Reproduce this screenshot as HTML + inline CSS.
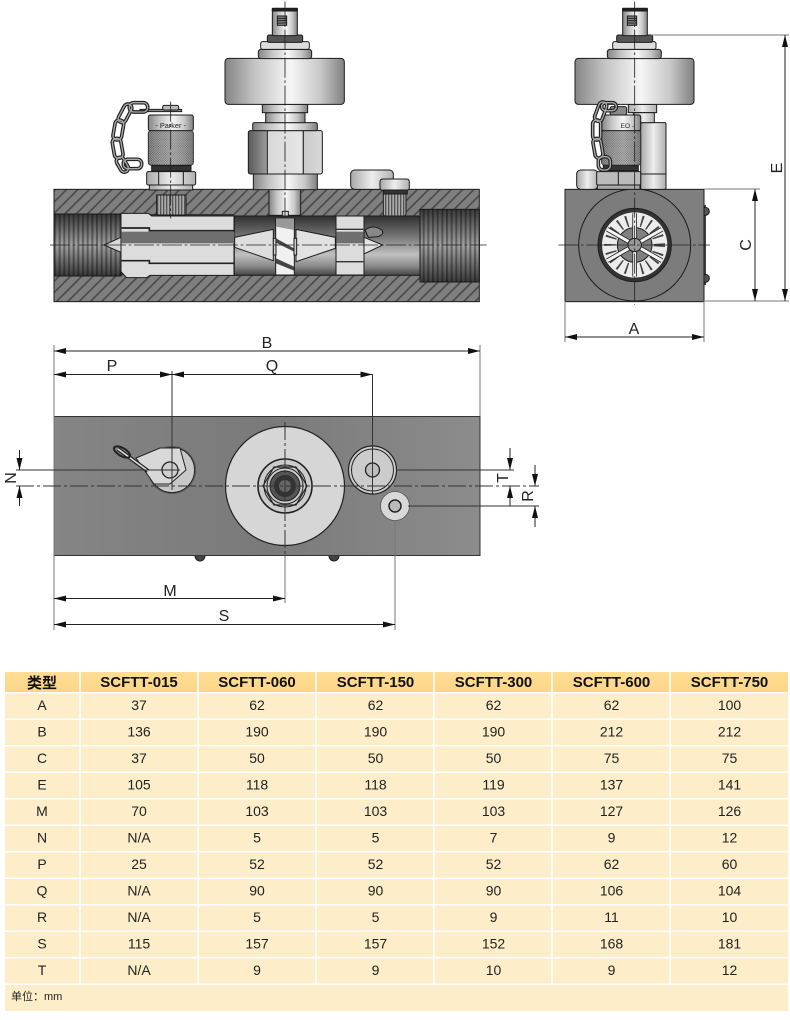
<!DOCTYPE html>
<html><head><meta charset="utf-8">
<style>
html,body{margin:0;padding:0;background:#fff;width:790px;height:1020px;overflow:hidden}
svg{display:block}
text{font-family:"Liberation Sans","Noto Sans CJK SC",sans-serif;fill:#222}
.d text{font-size:16px;text-anchor:middle}
.r text{font-size:14px;text-anchor:middle}
.h text{font-size:15px;font-weight:bold;text-anchor:middle;fill:#111}
.dm line{stroke:#222;stroke-width:1;marker-start:url(#a);marker-end:url(#a)}
.dn line{stroke:#222;stroke-width:1;marker-end:url(#a)}
</style></head><body>
<svg width="790" height="1020" viewBox="0 0 790 1020" xmlns="http://www.w3.org/2000/svg">
<defs>
<linearGradient id="cy"><stop offset="0" stop-color="#858585"/><stop offset=".25" stop-color="#c4c4c4"/><stop offset=".55" stop-color="#f6f6f6"/><stop offset=".8" stop-color="#c8c8c8"/><stop offset="1" stop-color="#808080"/></linearGradient>
<linearGradient id="cy2"><stop offset="0" stop-color="#a8a8a8"/><stop offset=".5" stop-color="#eee"/><stop offset="1" stop-color="#b0b0b0"/></linearGradient>
<linearGradient id="hx"><stop offset="0" stop-color="#5a5a5a"/><stop offset=".25" stop-color="#9a9a9a"/><stop offset=".26" stop-color="#d8d8d8"/><stop offset=".72" stop-color="#e6e6e6"/><stop offset=".73" stop-color="#c8c8c8"/><stop offset="1" stop-color="#dadada"/></linearGradient>
<linearGradient id="bore" x2="0" y2="1"><stop offset="0" stop-color="#303030"/><stop offset=".35" stop-color="#777"/><stop offset=".65" stop-color="#c0c0c0"/><stop offset=".85" stop-color="#888"/><stop offset="1" stop-color="#444"/></linearGradient>
<linearGradient id="thr" x2="0" y2="1"><stop offset="0" stop-color="#3a3a3a"/><stop offset=".5" stop-color="#a0a0a0"/><stop offset="1" stop-color="#3a3a3a"/></linearGradient>
<linearGradient id="hd" x2="0" y2="1"><stop offset="0" stop-color="#fedd94"/><stop offset="1" stop-color="#fcd687"/></linearGradient>
<linearGradient id="pl"><stop offset="0" stop-color="#858585"/><stop offset=".5" stop-color="#7a7a7a"/><stop offset="1" stop-color="#8c8c8c"/></linearGradient>
<pattern id="hatch" patternUnits="userSpaceOnUse" width="24" height="24" patternTransform="rotate(45)"><rect width="24" height="24" fill="#7f7f7f"/><rect width="5" height="24" fill="#4a4a4a"/></pattern>
<pattern id="tv" patternUnits="userSpaceOnUse" width="14" height="14"><rect width="6" height="14" fill="#000" opacity=".35"/></pattern>
<pattern id="kn" patternUnits="userSpaceOnUse" width="7" height="7"><rect width="7" height="7" fill="#999"/><circle cx="2" cy="2" r="1.8" fill="#333"/><circle cx="5.5" cy="5.5" r="1.8" fill="#333"/></pattern>
<pattern id="sr" patternUnits="userSpaceOnUse" width="9" height="9"><rect width="9" height="9" fill="#aaa"/><rect width="4" height="9" fill="#555"/></pattern>
<marker id="a" markerUnits="userSpaceOnUse" markerWidth="12" markerHeight="6" refX="12" refY="3" orient="auto-start-reverse"><path d="M0,0L12,3L0,6Z" fill="#111"/></marker>
</defs>

<!-- SECTION VIEW -->
<g transform="translate(40,0) scale(.33333)" stroke="#1c1c1c" stroke-width="3">
<rect x="42" y="568" width="1276" height="337" fill="url(#hatch)"/>
<rect x="42" y="642" width="540" height="184" fill="#333" stroke="none"/>
<rect x="583" y="648" width="557" height="178" fill="url(#bore)"/>
<rect x="42" y="642" width="201" height="186" fill="url(#thr)"/><rect x="42" y="642" width="201" height="186" fill="url(#tv)" stroke="none"/>
<rect x="1140" y="628" width="178" height="218" fill="url(#thr)"/><rect x="1140" y="628" width="178" height="218" fill="url(#tv)" stroke="none"/>
<path d="M243 640H325L335 648H582V826H330L320 833H260L243 815Z" fill="#dcdcdc"/>
<rect x="245" y="695" width="338" height="35" fill="#6f6f6f" stroke="none"/>
<path d="M245 684H328V692H582M245 782H328V790H582" fill="none" stroke="#222" stroke-width="5"/>
<rect x="888" y="648" width="84" height="177" fill="#dcdcdc"/>
<rect x="889" y="695" width="82" height="35" fill="#6f6f6f" stroke="none"/>
<path d="M889 688H970M889 785H970" stroke="#333" stroke-width="4"/>
<path d="M243 712L192 735L243 757Z" fill="#d8d8d8"/><path d="M972 712L1028 735L972 762Z" fill="#e4e4e4"/>
<path d="M975 690Q1000 672 1025 690Q1035 702 1015 710Q995 712 985 712Z" fill="#888"/>
<path d="M584 712L700 688V782L584 742Z" fill="#dedede"/>
<path d="M768 688L886 712V745L768 785Z" fill="#e2e2e2"/>
<rect x="707" y="655" width="56" height="170" fill="#f0f0f0"/>
<path d="M708 715L762 745V755L708 728Z M708 775L762 800V812L708 790Z" fill="#444" stroke="none"/>
<path d="M708 655H762V690L708 680Z" fill="#999" stroke="none"/>
<rect x="700" y="715" width="8" height="50" fill="#ccc"/><rect x="762" y="715" width="8" height="50" fill="#ccc"/>
<!-- left fitting -->
<rect x="350" y="585" width="88" height="60" fill="url(#sr)"/>
<rect x="328" y="552" width="130" height="18" fill="url(#cy2)"/>
<rect x="320" y="515" width="147" height="40" rx="5" fill="url(#cy2)"/>
<path d="M356 515V555M430 515V555" fill="none"/>
<rect x="335" y="497" width="118" height="16" fill="#333"/>
<rect x="325" y="392" width="135" height="103" rx="8" fill="url(#kn)"/>
<rect x="325" y="392" width="135" height="103" fill="url(#cy)" opacity=".35" stroke="none"/>
<rect x="325" y="345" width="135" height="47" rx="6" fill="url(#cy)"/>
<text x="392" y="384" stroke="none" text-anchor="middle" style="font-size:22px">- Parker -</text>
<path d="M300 328H425V335H300Z" fill="#888"/><rect x="368" y="316" width="48" height="14" rx="5" fill="#bbb"/>
<g fill="none" stroke="#222" stroke-width="11"><rect x="268" y="308" width="55" height="28" rx="13"/><rect x="243" y="310" width="24" height="60" rx="12" transform="rotate(28 255 340)"/><rect x="222" y="360" width="26" height="60" rx="12" transform="rotate(10 235 390)"/><rect x="220" y="415" width="26" height="60" rx="12" transform="rotate(-10 233 445)"/><rect x="235" y="470" width="24" height="48" rx="12" transform="rotate(-30 247 494)"/><rect x="250" y="478" width="55" height="28" rx="13"/></g>
<g fill="none" stroke="#aaa" stroke-width="4"><rect x="268" y="308" width="55" height="28" rx="13"/><rect x="243" y="310" width="24" height="60" rx="12" transform="rotate(28 255 340)"/><rect x="222" y="360" width="26" height="60" rx="12" transform="rotate(10 235 390)"/><rect x="220" y="415" width="26" height="60" rx="12" transform="rotate(-10 233 445)"/><rect x="235" y="470" width="24" height="48" rx="12" transform="rotate(-30 247 494)"/><rect x="250" y="478" width="55" height="28" rx="13"/></g>
<!-- centre stem -->
<rect x="687" y="568" width="95" height="78" fill="url(#cy)"/>
<rect x="727" y="634" width="18" height="14" fill="#ddd"/>
<rect x="640" y="522" width="192" height="47" fill="url(#cy)"/>
<rect x="625" y="392" width="222" height="130" rx="6" fill="url(#hx)"/>
<path d="M682 392V522M790 392V522" fill="none"/>
<rect x="638" y="368" width="194" height="24" rx="5" fill="url(#cy)"/>
<rect x="677" y="338" width="118" height="30" fill="url(#cy)"/>
<rect x="667" y="313" width="136" height="25" fill="url(#cy)"/>
<rect x="555" y="175" width="358" height="138" rx="10" fill="url(#cy)"/>
<rect x="655" y="148" width="160" height="28" rx="8" fill="url(#cy)"/>
<rect x="662" y="125" width="146" height="23" rx="6" fill="#ddd"/>
<rect x="682" y="105" width="106" height="22" rx="5" fill="#555"/>
<rect x="697" y="25" width="75" height="82" rx="3" fill="url(#cy)"/>
<rect x="697" y="25" width="75" height="8" fill="#222"/>
<rect x="712" y="48" width="28" height="28" fill="#888"/><path d="M712 55H740M712 62H740M712 69H740" fill="none"/>
<!-- right plug -->
<rect x="932" y="510" width="128" height="58" rx="12" fill="url(#cy2)"/>
<rect x="1030" y="578" width="68" height="70" rx="6" fill="url(#sr)"/>
<rect x="1020" y="537" width="88" height="34" rx="8" fill="url(#cy2)"/>
<rect x="1030" y="570" width="72" height="12" fill="#333"/>
<g stroke="#222" stroke-width="2.5" stroke-dasharray="60 8 8 8" fill="none"><path d="M30 735H1340"/><path d="M735 5V660"/><path d="M392 305V655"/></g>
</g>

<!-- FRONT VIEW -->
<g transform="translate(550,0) scale(.33333)" stroke="#1c1c1c" stroke-width="3">
<rect x="462" y="615" width="6" height="240" fill="#444" stroke="none"/>
<circle cx="466" cy="634" r="12" fill="#555"/><circle cx="466" cy="835" r="12" fill="#555"/>
<rect x="45" y="568" width="417" height="337" fill="#7f7f7f"/>
<circle cx="254" cy="735" r="168" fill="#7c7c7c"/>
<circle cx="254" cy="735" r="110" fill="#333"/>
<circle cx="254" cy="735" r="98" fill="#ececec" stroke="none"/>
<g stroke="#444" stroke-width="34" stroke-dasharray="5 18" fill="none"><circle cx="254" cy="735" r="74"/></g>
<circle cx="254" cy="735" r="52" fill="#808080"/>
<g stroke="#222" stroke-width="14"><path d="M254 640V830M172 688L336 782M172 782L336 688"/></g>
<g stroke="#f4f4f4" stroke-width="9"><path d="M254 640V830M172 688L336 782M172 782L336 688"/></g>
<circle cx="254" cy="735" r="20" fill="#999"/>
<rect x="272" y="368" width="76" height="200" rx="4" fill="url(#cy2)"/>
<path d="M272 522H348" fill="none"/>
<rect x="235" y="313" width="85" height="25" fill="url(#cy2)"/>
<rect x="250" y="338" width="63" height="30" fill="url(#cy2)"/>
<rect x="75" y="175" width="357" height="138" rx="10" fill="url(#cy)"/>
<rect x="172" y="148" width="162" height="28" rx="8" fill="url(#cy)"/>
<rect x="188" y="125" width="130" height="23" rx="6" fill="#ddd"/>
<rect x="200" y="105" width="108" height="22" rx="5" fill="#555"/>
<rect x="218" y="25" width="74" height="82" rx="3" fill="url(#cy)"/>
<rect x="218" y="25" width="74" height="8" fill="#222"/>
<rect x="232" y="48" width="28" height="28" fill="#888"/><path d="M232 55H260M232 62H260M232 69H260" fill="none"/>
<rect x="80" y="510" width="64" height="58" rx="12" fill="url(#cy2)"/>
<rect x="140" y="515" width="132" height="40" rx="4" fill="#bbb"/><path d="M205 515V555" fill="none"/>
<rect x="142" y="555" width="128" height="13" fill="#aaa"/>
<rect x="160" y="494" width="105" height="18" fill="#333"/>
<rect x="155" y="392" width="117" height="103" rx="8" fill="url(#kn)"/>
<rect x="155" y="392" width="117" height="103" fill="url(#cy)" opacity=".35" stroke="none"/>
<rect x="155" y="345" width="117" height="47" rx="6" fill="url(#cy)"/>
<text x="232" y="384" style="font-size:20px" stroke="none" text-anchor="middle">EO -</text>
<rect x="180" y="320" width="50" height="25" rx="6" fill="#888"/>
<g fill="none" stroke="#222" stroke-width="11"><rect x="155" y="308" width="44" height="24" rx="12"/><rect x="140" y="305" width="24" height="60" rx="12" transform="rotate(20 152 335)"/><rect x="128" y="360" width="24" height="60" rx="12"/><rect x="132" y="415" width="24" height="60" rx="12" transform="rotate(-10 144 445)"/><rect x="145" y="470" width="36" height="40" rx="14"/></g>
<g fill="none" stroke="#aaa" stroke-width="4"><rect x="155" y="308" width="44" height="24" rx="12"/><rect x="140" y="305" width="24" height="60" rx="12" transform="rotate(20 152 335)"/><rect x="128" y="360" width="24" height="60" rx="12"/><rect x="132" y="415" width="24" height="60" rx="12" transform="rotate(-10 144 445)"/><rect x="145" y="470" width="36" height="40" rx="14"/></g>
<g stroke="#222" stroke-width="2.5" stroke-dasharray="60 8 8 8" fill="none"><path d="M25 735H480"/><path d="M254 5V915"/></g>
</g>
<!-- front dims -->
<g fill="none" stroke="#777" stroke-width="1"><path d="M651 35H789M704 189H760M704 301H789M565 301V342M704 301V342"/></g>
<g class="dm"><line x1="785" y1="35" x2="785" y2="301"/><line x1="755" y1="189" x2="755" y2="301"/><line x1="565" y1="337" x2="704" y2="337"/></g>

<!-- PLAN VIEW -->
<g stroke="#222" fill="none">
<circle cx="200" cy="556" r="5" fill="#444"/><circle cx="334" cy="556" r="5" fill="#444"/>
<rect x="54" y="416.500" width="426" height="139" fill="url(#pl)" stroke="#333"/>
<!-- centre -->
<circle cx="285" cy="486" r="59.500" fill="#d6d6d6" stroke-width="1.200"/>
<circle cx="285" cy="486" r="27" fill="#ccc" stroke-width="1.600"/>
<path d="M263 486L274 467H296L307 486L296 505H274Z" stroke-width="1.200"/>
<circle cx="285" cy="486" r="21" stroke-width="1"/><circle cx="285" cy="486" r="18" stroke-width="1"/><circle cx="285" cy="486" r="15" fill="#555" stroke-width="1"/>
<circle cx="285" cy="486" r="11" fill="#333" stroke="none"/>
<circle cx="285" cy="486" r="6" fill="#666" stroke="none"/>
<!-- left fitting -->
<circle cx="172" cy="470" r="24" fill="#555" stroke="none"/><circle cx="172" cy="470" r="22.500" fill="#c8c8c8" stroke-width=".8"/>
<path d="M136 458L160 448H180L186 470L170 484L154 484Z" fill="#d8d8d8" stroke-width="1"/>
<circle cx="170" cy="470" r="8" fill="#cfcfcf" stroke-width="1.300"/>
<path d="M118 449L148 471" stroke="#222" stroke-width="4"/><path d="M118 449L148 471" stroke="#ddd" stroke-width="1.600"/>
<ellipse cx="122" cy="452" rx="9" ry="4" transform="rotate(30 122 452)" stroke-width="2"/>
<!-- right plug -->
<circle cx="372.500" cy="470" r="24" fill="#ccc" stroke-width="1.200"/><circle cx="372.500" cy="470" r="21" stroke-width="1"/>
<circle cx="372.500" cy="470" r="7" fill="#bdbdbd" stroke-width="1.300"/>
<!-- small -->
<circle cx="395" cy="506" r="14.500" fill="#d8d8d8" stroke="#555" stroke-width=".8"/><circle cx="395" cy="506" r="6" fill="#bbb" stroke-width="1.500"/>
</g>
<g fill="none" stroke="#777" stroke-width="1"><path d="M54 345V630M480 345V416M285 556V603M395 520V630"/></g>
<g fill="none" stroke="#333" stroke-width="1"><path d="M172 371V490M372.500 374V495M16 470H180M396 470H514M408 506H539"/></g>
<g fill="none" stroke="#333" stroke-width="1" stroke-dasharray="18 3 3 3"><path d="M16 486H539"/><path d="M285 422V556"/></g>
<g class="dm">
<line x1="54" y1="351" x2="480" y2="351"/><line x1="54" y1="374.500" x2="172" y2="374.500"/><line x1="172" y1="374.500" x2="372.500" y2="374.500"/><line x1="54" y1="598.500" x2="285" y2="598.500"/><line x1="54" y1="624.500" x2="395" y2="624.500"/>
</g>
<g class="dn">
<line x1="19.500" y1="450" x2="19.500" y2="470"/><line x1="19.500" y1="506" x2="19.500" y2="486"/><line x1="510" y1="448" x2="510" y2="470"/><line x1="510" y1="506" x2="510" y2="486"/><line x1="535" y1="465" x2="535" y2="486"/><line x1="535" y1="527" x2="535" y2="506"/>
</g>

<g class="d">
<text x="267" y="348">B</text><text x="112" y="371">P</text><text x="272" y="371">Q</text>
<text x="170" y="596">M</text><text x="224" y="621">S</text>
<text x="634" y="334">A</text>
<text transform="translate(16,478) rotate(-90)" x="0" y="0">N</text>
<text transform="translate(508,478) rotate(-90)" x="0" y="0">T</text>
<text transform="translate(533,496) rotate(-90)" x="0" y="0">R</text>
<text transform="translate(751,245) rotate(-90)" x="0" y="0">C</text>
<text transform="translate(782,168) rotate(-90)" x="0" y="0">E</text>
</g>

<!-- TABLE -->
<rect x="5" y="672" width="783" height="20" fill="url(#hd)"/>
<g fill="#fdeec9">
<rect x="5" y="693.500" width="783" height="25"/><rect x="5" y="720" width="783" height="25"/><rect x="5" y="746.500" width="783" height="25"/><rect x="5" y="773" width="783" height="25"/><rect x="5" y="799.500" width="783" height="25"/><rect x="5" y="826" width="783" height="25"/><rect x="5" y="852.500" width="783" height="25"/><rect x="5" y="879" width="783" height="25"/><rect x="5" y="905.500" width="783" height="25"/><rect x="5" y="932" width="783" height="25"/><rect x="5" y="958.500" width="783" height="25"/><rect x="5" y="985" width="783" height="26"/>
</g>
<g stroke="#fff" stroke-width="1.600"><path d="M80 672V984M198 672V984M316 672V984M434 672V984M552 672V984M670 672V984"/></g>
<g class="h"><text x="42" y="688">类型</text><text x="139" y="687">SCFTT-015</text><text x="257" y="687">SCFTT-060</text><text x="375.500" y="687">SCFTT-150</text><text x="493.500" y="687">SCFTT-300</text><text x="611.500" y="687">SCFTT-600</text><text x="729.500" y="687">SCFTT-750</text></g>
<g class="r">
<text x="42" y="710">A</text><text x="139" y="710">37</text><text x="257" y="710">62</text><text x="375.500" y="710">62</text><text x="493.500" y="710">62</text><text x="611.500" y="710">62</text><text x="729.500" y="710">100</text>
<text x="42" y="736.500">B</text><text x="139" y="736.500">136</text><text x="257" y="736.500">190</text><text x="375.500" y="736.500">190</text><text x="493.500" y="736.500">190</text><text x="611.500" y="736.500">212</text><text x="729.500" y="736.500">212</text>
<text x="42" y="763">C</text><text x="139" y="763">37</text><text x="257" y="763">50</text><text x="375.500" y="763">50</text><text x="493.500" y="763">50</text><text x="611.500" y="763">75</text><text x="729.500" y="763">75</text>
<text x="42" y="789.500">E</text><text x="139" y="789.500">105</text><text x="257" y="789.500">118</text><text x="375.500" y="789.500">118</text><text x="493.500" y="789.500">119</text><text x="611.500" y="789.500">137</text><text x="729.500" y="789.500">141</text>
<text x="42" y="816">M</text><text x="139" y="816">70</text><text x="257" y="816">103</text><text x="375.500" y="816">103</text><text x="493.500" y="816">103</text><text x="611.500" y="816">127</text><text x="729.500" y="816">126</text>
<text x="42" y="842.500">N</text><text x="139" y="842.500">N/A</text><text x="257" y="842.500">5</text><text x="375.500" y="842.500">5</text><text x="493.500" y="842.500">7</text><text x="611.500" y="842.500">9</text><text x="729.500" y="842.500">12</text>
<text x="42" y="869">P</text><text x="139" y="869">25</text><text x="257" y="869">52</text><text x="375.500" y="869">52</text><text x="493.500" y="869">52</text><text x="611.500" y="869">62</text><text x="729.500" y="869">60</text>
<text x="42" y="895.500">Q</text><text x="139" y="895.500">N/A</text><text x="257" y="895.500">90</text><text x="375.500" y="895.500">90</text><text x="493.500" y="895.500">90</text><text x="611.500" y="895.500">106</text><text x="729.500" y="895.500">104</text>
<text x="42" y="922">R</text><text x="139" y="922">N/A</text><text x="257" y="922">5</text><text x="375.500" y="922">5</text><text x="493.500" y="922">9</text><text x="611.500" y="922">11</text><text x="729.500" y="922">10</text>
<text x="42" y="948.500">S</text><text x="139" y="948.500">115</text><text x="257" y="948.500">157</text><text x="375.500" y="948.500">157</text><text x="493.500" y="948.500">152</text><text x="611.500" y="948.500">168</text><text x="729.500" y="948.500">181</text>
<text x="42" y="975">T</text><text x="139" y="975">N/A</text><text x="257" y="975">9</text><text x="375.500" y="975">9</text><text x="493.500" y="975">10</text><text x="611.500" y="975">9</text><text x="729.500" y="975">12</text>
</g>
<text x="11" y="1000" style="font-size:11px">单位：mm</text>
</svg>
</body></html>
